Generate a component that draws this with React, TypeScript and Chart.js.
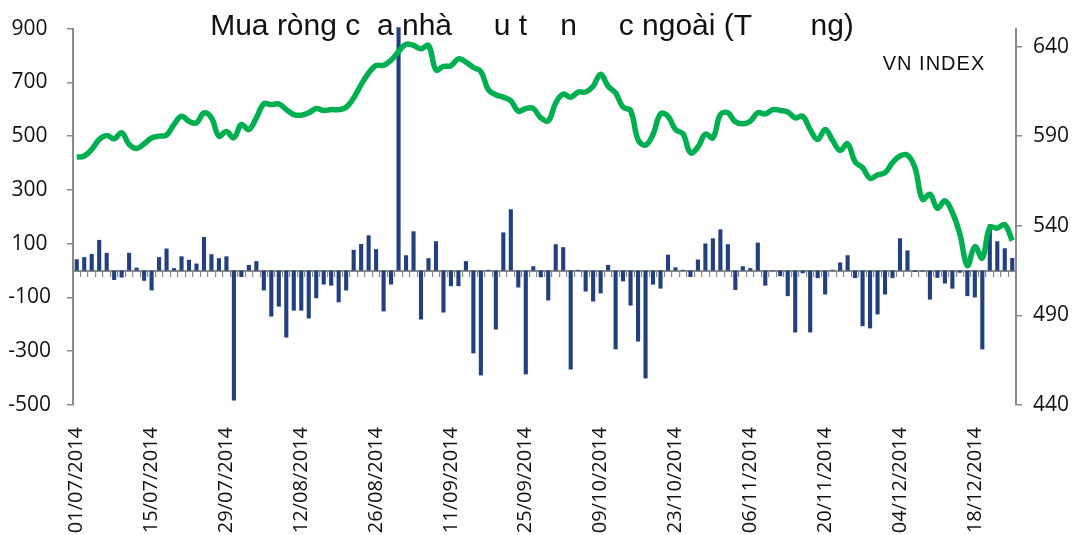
import React, { useEffect, useRef } from "react";
import { Chart, registerables } from "chart.js";

Chart.register(...registerables);

// Date tick labels (every 10th trading session)
const tickLabels = [
  "01/07/2014", "15/07/2014", "29/07/2014", "12/08/2014", "26/08/2014",
  "11/09/2014", "25/09/2014", "09/10/2014", "23/10/2014", "06/11/2014",
  "20/11/2014", "04/12/2014", "18/12/2014",
];

// Net buying of foreign investors (billion VND)
const netBuy = [
  42, 50, 62, 114, 66, -35, -26, 66, 11, -38,
  -74, 50, 82, 9, 53, 40, 26, 125, 61, 46,
  53, -483, -24, 21, 35, -74, -171, -134, -249, -149,
  -149, -178, -103, -52, -56, -118, -74, 77, 99, 131,
  80, -152, -52, 905, 57, 146, -182, 46, 109, -156,
  -58, -58, 35, -308, -390, 3, -219, 142, 228, -63,
  -386, 16, -25, -111, 98, 87, -368, 3, -78, -115,
  -85, 21, -293, -40, -130, -264, -401, -52, -67, 59,
  12, 3, -24, 41, 101, 120, 153, 98, -72, 16,
  9, 104, -56, 2, -21, -95, -230, -10, -230, -28,
  -89, 3, 30, 57, -28, -207, -215, -163, -89, -28,
  120, 75, -5, -3, -108, -27, -48, -67, -8, -95,
  -100, -293, 172, 109, 83, 47,
];

// VN-Index closing values
const vnIndex = [
  578.3, 578.9, 582.6, 588.1, 590.4, 588.5, 591.9, 585.4, 583.1, 585.7,
  589.0, 590.0, 590.6, 596.5, 601.1, 598.3, 597.4, 603.0, 600.2, 590.0,
  592.6, 589.1, 596.5, 593.7, 600.2, 608.0, 607.6, 608.0, 604.8, 602.0,
  601.7, 603.0, 605.4, 604.3, 604.8, 604.8, 606.1, 611.3, 618.7, 625.2,
  629.4, 629.5, 632.3, 637.2, 641.3, 640.6, 638.7, 640.6, 627.0, 628.9,
  629.3, 633.1, 631.3, 628.3, 626.1, 615.9, 613.1, 611.7, 609.8, 603.9,
  605.4, 605.4, 600.2, 598.5, 608.5, 613.5, 611.7, 614.6, 614.6, 617.8,
  624.6, 617.8, 614.1, 606.1, 604.3, 588.1, 585.0, 590.9, 602.4, 601.1,
  593.7, 591.3, 580.7, 583.9, 591.2, 589.1, 602.0, 603.0, 598.0, 596.9,
  598.3, 603.0, 602.4, 604.8, 604.3, 603.5, 600.2, 601.1, 593.7, 588.1,
  593.7, 587.6, 582.0, 585.7, 575.7, 572.4, 566.5, 568.3, 569.6, 575.2,
  578.9, 579.4, 572.4, 554.8, 557.6, 549.8, 553.9, 547.4, 535.4, 517.8,
  528.3, 522.0, 539.1, 538.7, 540.6, 531.7,
];

const leftTicks = [-500, -300, -100, 100, 300, 500, 700, 900];
const rightTicks = [440, 490, 540, 590, 640];

const TITLE =
  "Mua ròng c  a nhà     u t    n     c ngoài (T       ng)";
const INDEX_LABEL = "VN INDEX";

const categories = netBuy.map((_, i) =>
  i % 10 === 0 && tickLabels[i / 10] ? tickLabels[i / 10] : ""
);

const AXIS_GRAY = "#8a8a8a";
const TEXT = "#111111";
const TICK_FONT = "'Open Sans', 'Noto Sans', sans-serif";

const overlayText = {
  id: "overlayText",
  afterDraw(chart: any) {
    const ctx = chart.ctx;
    ctx.save();
    ctx.fillStyle = TEXT;
    ctx.textAlign = "center";
    ctx.textBaseline = "alphabetic";
    ctx.font = "30px 'Liberation Sans', Arial, sans-serif";
    ctx.fillText(TITLE, 532, 35);
    ctx.font = "20px 'Liberation Sans', Arial, sans-serif";
    (ctx as any).letterSpacing = "1px";
    ctx.fillText(INDEX_LABEL, 934, 70);
    ctx.restore();
  },
};

export default function App() {
  const ref = useRef<HTMLCanvasElement | null>(null);

  useEffect(() => {
    if (!ref.current) return;
    const chart = new Chart(ref.current, {
      type: "bar",
      data: {
        labels: categories,
        datasets: [
          {
            type: "line",
            label: "VN INDEX",
            data: vnIndex,
            xAxisID: "x",
            yAxisID: "y1",
            borderColor: "#00B050",
            borderWidth: 5.5,
            pointRadius: 0,
            tension: 0.4,
            fill: false,
            order: 0,
          } as any,
          {
            type: "bar",
            label: "Mua ròng",
            data: netBuy,
            xAxisID: "x",
            yAxisID: "y",
            backgroundColor: "#223F80",
            borderWidth: 0,
            barPercentage: 0.55,
            categoryPercentage: 1,
            clip: false,
            order: 1,
          } as any,
        ],
      },
      options: {
        responsive: false,
        animation: false,
        layout: { padding: { top: 28, left: 0, right: 0, bottom: 0 } },
        plugins: {
          legend: { display: false },
          title: { display: false },
          tooltip: { enabled: false },
        },
        scales: {
          x: {
            type: "category",
            position: "bottom",
            offset: true,
            grid: { display: false, drawTicks: false },
            border: { display: false },
            ticks: {
              autoSkip: false,
              minRotation: 90,
              maxRotation: 90,
              padding: 22,
              color: TEXT,
              font: { family: TICK_FONT, size: 20 },
            },
            afterFit: (s: any) => {
              s.height = 130;
            },
          },
          x0: {
            type: "category",
            position: { y: 0 } as any,
            offset: true,
            grid: {
              display: true,
              drawOnChartArea: false,
              drawTicks: true,
              tickLength: 5,
              color: AXIS_GRAY,
              lineWidth: 1.2,
              offset: true,
            },
            border: { display: true, color: AXIS_GRAY, width: 2 },
            ticks: { display: false },
          },
          y: {
            type: "linear",
            position: "left",
            min: -500,
            max: 900,
            afterBuildTicks: (s: any) => {
              s.ticks = leftTicks.map((v) => ({ value: v }));
            },
            grid: {
              display: true,
              drawOnChartArea: false,
              drawTicks: true,
              tickLength: 6,
              color: AXIS_GRAY,
              lineWidth: 1.5,
            },
            border: { display: true, color: AXIS_GRAY, width: 2 },
            ticks: {
              crossAlign: "center",
              padding: 16,
              color: TEXT,
              font: { family: TICK_FONT, size: 21 },
            },
            afterFit: (s: any) => {
              s.width = 73;
            },
          },
          y1: {
            type: "linear",
            position: "right",
            min: 440,
            max: 650,
            afterBuildTicks: (s: any) => {
              s.ticks = rightTicks.map((v) => ({ value: v }));
            },
            grid: {
              display: true,
              drawOnChartArea: false,
              drawTicks: true,
              tickLength: 6,
              color: AXIS_GRAY,
              lineWidth: 1.5,
            },
            border: { display: true, color: AXIS_GRAY, width: 2 },
            ticks: {
              padding: 11,
              color: TEXT,
              font: { family: TICK_FONT, size: 21 },
            },
            afterFit: (s: any) => {
              s.width = 62;
            },
          },
        },
      } as any,
      plugins: [overlayText],
    });
    return () => chart.destroy();
  }, []);

  return (
    <div style={{ position: "fixed", left: 0, top: 0, width: 1078, height: 535, background: "#fff" }}>
      <canvas ref={ref} width={1078} height={535} style={{ display: "block" }} />
    </div>
  );
}
